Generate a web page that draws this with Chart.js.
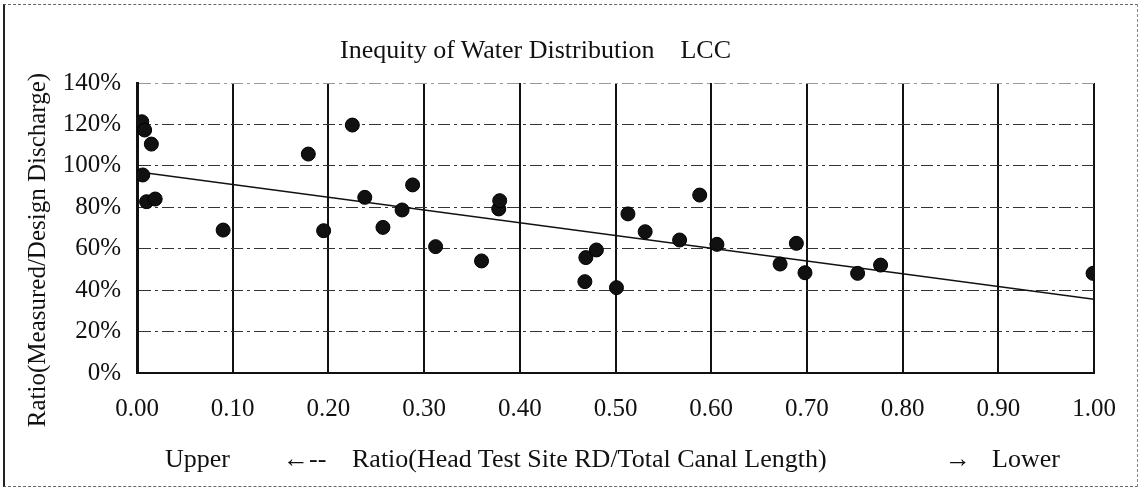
<!DOCTYPE html>
<html>
<head>
<meta charset="utf-8">
<script src="https://cdn.jsdelivr.net/npm/chart.js@4/dist/chart.umd.min.js"></script>
<style>
    body { margin: 0; background: #fff; }
    #wrap { position: relative; width: 1141px; height: 494px; background: #fff; overflow: hidden; }
    #chart { position: absolute; left: 0; top: 0; }
    .frame {
        position: absolute; left: 3px; top: 4px; width: 1132px; height: 481px;
        border-left: 2px solid #222; border-top: 1px dashed #666;
        border-bottom: 1px dashed #666; border-right: 1px dashed #888;
    }
    .txt {
        position: absolute; font-family: "Liberation Serif", "Times New Roman", serif;
        color: #111; white-space: pre; line-height: 1;
    }
    #title { left: 340px; top: 37px; font-size: 26px; }
    #yTitle { left: 36px; top: 250px; font-size: 25px; transform: translate(-50%, -50%) rotate(-90deg); }
    .xrow { top: 446px; font-size: 26px; }
</style>
</head>
<body>
<div id="wrap">
    <canvas id="chart" width="1141" height="494"></canvas>
    <div class="frame"></div>
    <div class="txt" id="title">Inequity of Water Distribution    LCC</div>
    <div class="txt" id="yTitle">Ratio(Measured/Design Discharge)</div>
    <div class="txt xrow" style="left:165px">Upper</div>
    <div class="txt xrow" style="left:283px">&#8592;--</div>
    <div class="txt xrow" style="left:352px">Ratio(Head Test Site RD/Total Canal Length)</div>
    <div class="txt xrow" style="left:945px">&#8594;</div>
    <div class="txt xrow" style="left:992px">Lower</div>
</div>
<script>
// Site position along the canal (fraction of total length)
const siteRatio = [0.005, 0.008, 0.015, 0.006, 0.010, 0.019, 0.090, 0.179, 0.195, 0.225,
    0.238, 0.257, 0.277, 0.288, 0.312, 0.360, 0.378, 0.379, 0.468, 0.469,
    0.480, 0.501, 0.513, 0.531, 0.567, 0.588, 0.606, 0.672, 0.689, 0.698,
    0.753, 0.777, 0.999];

// Measured / design discharge, in percent
const dischargeRatio = [121.3, 117.3, 110.5, 95.6, 82.7, 84.0, 69.0, 105.7, 68.7, 119.7,
    84.8, 70.3, 78.7, 90.8, 61.0, 54.1, 79.2, 83.2, 44.1, 55.7,
    59.4, 41.2, 76.8, 68.2, 64.2, 85.9, 62.1, 52.6, 62.6, 48.4,
    48.1, 52.1, 48.1];

// Linear trend end points
const trendX = [0, 1];
const trendY = [97.2, 35.6];

const xTicks = [0, 0.1, 0.2, 0.3, 0.4, 0.5, 0.6, 0.7, 0.8, 0.9, 1.0];
const yTicks = [0, 20, 40, 60, 80, 100, 120, 140];

const tickFont = { family: '"Liberation Serif", "Times New Roman", serif', size: 25 };

const ctx = document.getElementById('chart').getContext('2d');

new Chart(ctx, {
    type: 'scatter',
    data: {
        datasets: [
            {
                label: 'Sites',
                data: siteRatio.map((x, i) => ({ x: x, y: dischargeRatio[i] })),
                pointRadius: 7,
                pointBackgroundColor: '#111',
                pointBorderColor: '#000',
                pointBorderWidth: 1,
                showLine: false
            },
            {
                label: 'Trend',
                data: trendX.map((x, i) => ({ x: x, y: trendY[i] })),
                showLine: true,
                borderColor: '#111',
                borderWidth: 1.5,
                pointRadius: 0
            }
        ]
    },
    options: {
        responsive: false,
        animation: false,
        layout: { padding: { left: 0, right: 47, top: 83, bottom: 0 } },
        plugins: {
            legend: { display: false },
            tooltip: { enabled: false }
        },
        scales: {
            x: {
                type: 'linear',
                min: 0,
                max: 1,
                afterBuildTicks: (scale) => { scale.ticks = xTicks.map(v => ({ value: v })); },
                afterFit: (scale) => { scale.height = 121; },
                grid: {
                    color: '#111',
                    lineWidth: 2,
                    drawTicks: false
                },
                border: { display: true, color: '#111', width: 2 },
                ticks: {
                    color: '#111',
                    font: tickFont,
                    padding: 21,
                    maxRotation: 0,
                    callback: (v) => Number(v).toFixed(2)
                }
            },
            y: {
                min: 0,
                max: 140,
                afterBuildTicks: (scale) => { scale.ticks = yTicks.map(v => ({ value: v })); },
                afterFit: (scale) => { scale.width = 137; },
                grid: {
                    // top line is faint in the original
                    color: (c) => c.tick && c.tick.value === 140 ? '#999' : '#333',
                    lineWidth: 1,
                    drawTicks: false
                },
                // in v4 border.dash dashes the grid lines, the axis line stays solid
                border: { display: true, color: '#111', width: 3, dash: [12, 4, 3, 4] },
                ticks: {
                    color: '#111',
                    font: tickFont,
                    padding: 16,
                    callback: (v) => v + '%'
                }
            }
        }
    }
});
</script>
</body>
</html>
